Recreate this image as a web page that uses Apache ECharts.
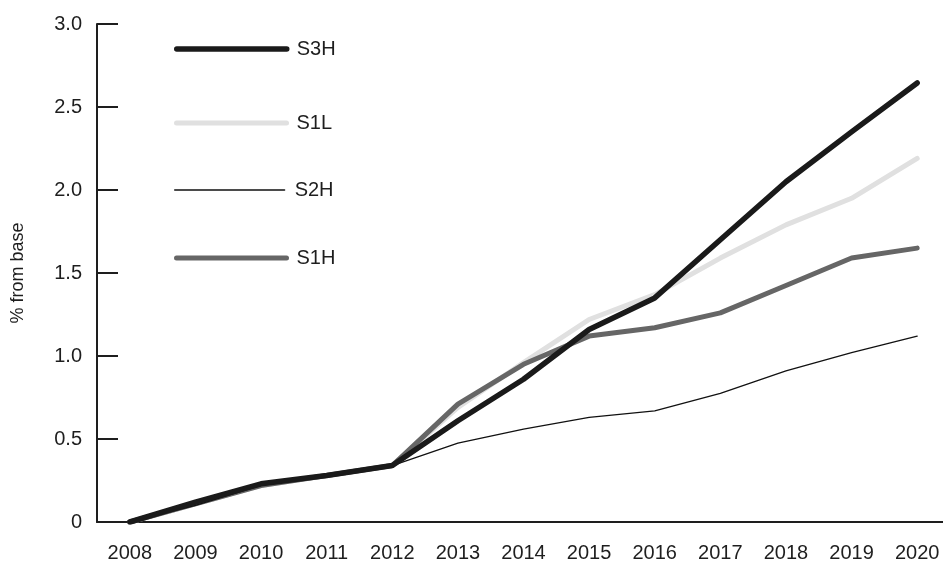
<!DOCTYPE html>
<html>
<head>
<meta charset="utf-8">
<script src="https://cdn.jsdelivr.net/npm/echarts@6/dist/echarts.min.js"></script>
<style>
  html, body { margin: 0; padding: 0; background: #fff; overflow: hidden; }
  /* the plot runs a few px past the right edge in the picture */
  #chart { width: 950px; height: 563px; }
</style>
</head>
<body>
<div id="chart"></div>
<script>
// years on the x axis
var years = ['2008','2009','2010','2011','2012','2013','2014','2015','2016','2017','2018','2019','2020'];
// % from base
var s3h = [0, 0.12, 0.23, 0.28, 0.34, 0.61, 0.86, 1.16, 1.35, 1.70, 2.05, 2.35, 2.645];
var s1l = [0, 0.11, 0.22, 0.28, 0.34, 0.69, 0.96, 1.22, 1.37, 1.59, 1.79, 1.95, 2.19];
var s2h = [0, 0.10, 0.22, 0.28, 0.34, 0.475, 0.56, 0.63, 0.67, 0.775, 0.91, 1.02, 1.12];
var s1h = [0, 0.11, 0.22, 0.28, 0.34, 0.71, 0.95, 1.12, 1.17, 1.26, 1.425, 1.59, 1.65];

var font = 'Liberation Sans, Arial, Helvetica, sans-serif';
var ink = '#1e1e1e';

function lineSeries(name, data, color, width, z) {
  return {
    name: name,
    type: 'line',
    data: data,
    symbol: 'none',
    z: z,
    lineStyle: { color: color, width: width, cap: 'round', join: 'round' },
    itemStyle: { color: color }
  };
}

// one legend per entry so each row sits where the picture has it
function legendAt(name, top, width) {
  return {
    data: [name],
    left: 174,
    top: top,
    padding: 0,
    itemWidth: 110,
    itemHeight: 14,
    itemGap: 0,
    itemStyle: { opacity: 0 },
    lineStyle: { width: width, cap: 'round' },
    textStyle: { fontFamily: font, fontSize: 20, color: ink, padding: [0, 0, 0, 5] },
    selectedMode: false
  };
}

var chart = echarts.init(document.getElementById('chart'));
chart.setOption({
  animation: false,
  backgroundColor: '#fff',
  grid: { left: 97, right: 0, top: 24, bottom: 40 },
  legend: [
    legendAt('S3H', 39, 5.5),
    legendAt('S1L', 113, 5),
    legendAt('S2H', 180, 1.3),
    legendAt('S1H', 248, 5)
  ],
  xAxis: {
    type: 'category',
    data: years,
    boundaryGap: true,
    axisLine: { lineStyle: { color: ink, width: 2 } },
    axisTick: { inside: true, length: 12, lineStyle: { color: ink, width: 2 } },
    axisLabel: { fontFamily: font, fontSize: 20, color: ink, margin: 21 },
    splitLine: { show: false }
  },
  yAxis: {
    type: 'value',
    min: 0,
    max: 3,
    interval: 0.5,
    name: '% from base',
    nameLocation: 'middle',
    nameGap: 70,
    nameTextStyle: { fontFamily: font, fontSize: 18, color: ink },
    axisLine: { show: true, lineStyle: { color: ink, width: 2 } },
    axisTick: { show: true, inside: true, length: 21, lineStyle: { color: ink, width: 2 } },
    axisLabel: {
      fontFamily: font, fontSize: 20, color: ink, margin: 15,
      formatter: function (v) { return v === 0 ? '0' : v.toFixed(1); }
    },
    splitLine: { show: false }
  },
  series: [
    lineSeries('S1L', s1l, '#e0e0e0', 5, 2),
    lineSeries('S1H', s1h, '#666666', 5, 3),
    lineSeries('S2H', s2h, '#111111', 1.3, 4),
    lineSeries('S3H', s3h, '#1a1a1a', 5.5, 5)
  ]
});
</script>
</body>
</html>
